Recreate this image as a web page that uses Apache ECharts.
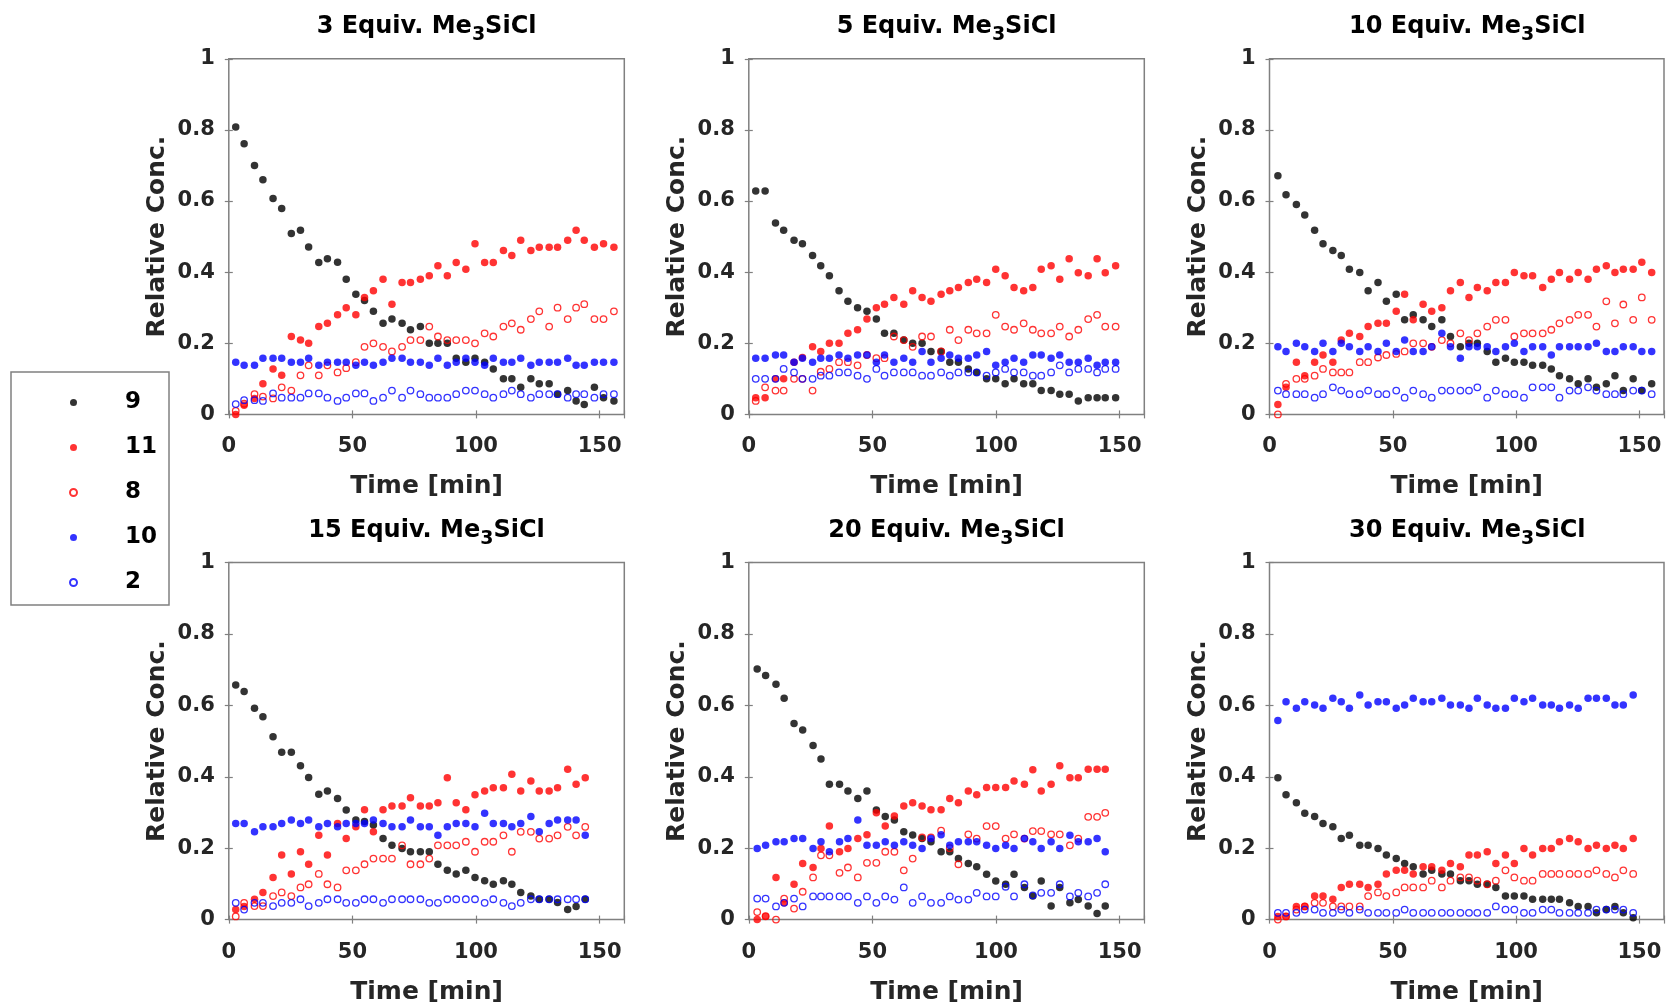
<!DOCTYPE html>
<html><head><meta charset="utf-8">
<script src="https://cdn.jsdelivr.net/npm/echarts@6/dist/echarts.min.js"></script>
<style>html,body{margin:0;padding:0;background:#fff}#c{width:1667px;height:1007px}</style>
</head><body><div id="c"></div>
<script>
// ---------- data ----------
const equivLabels = ['3','5','10','15','20','30'];
const seriesNames = ['9','11','8','10','2'];
const xTickLabels = ['0','50','100','150'];
const yTickLabels = ['0','0.2','0.4','0.6','0.8','1'];

// 3 equiv
const t_3 = [2.8,6.2,10.4,13.8,17.9,21.4,25.3,29.0,32.3,36.4,39.9,44.0,47.5,51.4,54.9,58.5,62.4,66.0,70.1,73.5,77.5,81.1,84.6,88.4,92.0,95.9,99.6,103.5,107.0,111.1,114.5,118.1,122.2,125.6,129.6,133.0,137.1,140.5,143.8,147.9,151.6,155.8];
const c9_3 = [0.808,0.761,0.70,0.66,0.607,0.579,0.509,0.518,0.471,0.427,0.438,0.428,0.38,0.338,0.32,0.29,0.256,0.268,0.256,0.238,0.247,0.2,0.2,0.2,0.158,0.147,0.158,0.147,0.128,0.1,0.1,0.076,0.1,0.086,0.086,0.057,0.067,0.038,0.028,0.076,0.047,0.038];
const c11_3 = [0.0,0.026,0.045,0.086,0.128,0.11,0.219,0.209,0.2,0.247,0.256,0.28,0.30,0.28,0.329,0.348,0.38,0.31,0.371,0.371,0.38,0.39,0.418,0.39,0.427,0.408,0.48,0.427,0.427,0.461,0.447,0.49,0.461,0.47,0.47,0.47,0.49,0.518,0.49,0.47,0.48,0.47];
const c8_3 = [0.01,0.03,0.057,0.05,0.045,0.076,0.067,0.11,0.138,0.11,0.138,0.118,0.13,0.147,0.19,0.2,0.19,0.177,0.19,0.209,0.209,0.247,0.219,0.209,0.209,0.209,0.2,0.228,0.219,0.247,0.256,0.238,0.268,0.29,0.247,0.30,0.268,0.30,0.31,0.268,0.268,0.29];
const c10_3 = [0.147,0.138,0.138,0.158,0.158,0.158,0.147,0.147,0.158,0.138,0.147,0.147,0.147,0.138,0.147,0.138,0.147,0.158,0.158,0.147,0.147,0.138,0.158,0.138,0.147,0.158,0.147,0.138,0.158,0.147,0.147,0.158,0.138,0.147,0.147,0.147,0.158,0.138,0.138,0.147,0.147,0.147];
const c2_3 = [0.029,0.04,0.04,0.038,0.059,0.047,0.047,0.047,0.059,0.059,0.047,0.038,0.047,0.059,0.059,0.038,0.047,0.067,0.047,0.067,0.057,0.047,0.047,0.047,0.057,0.067,0.067,0.057,0.047,0.057,0.067,0.057,0.047,0.057,0.057,0.057,0.047,0.057,0.057,0.047,0.057,0.057];

// 5 equiv
const t_5 = [2.8,6.6,10.8,14.1,18.3,21.7,25.8,29.1,32.6,36.5,40.1,44.0,47.8,51.6,54.9,58.7,62.7,66.3,70.1,73.7,77.8,81.3,84.8,88.8,92.2,96.2,99.9,103.7,107.3,111.2,114.9,118.3,122.3,125.8,129.6,133.3,137.3,140.9,144.2,148.4];
const c9_5 = [0.628,0.628,0.538,0.518,0.49,0.48,0.447,0.418,0.39,0.348,0.318,0.30,0.29,0.268,0.228,0.228,0.209,0.2,0.2,0.177,0.177,0.147,0.147,0.128,0.118,0.1,0.1,0.086,0.1,0.086,0.086,0.067,0.067,0.057,0.057,0.038,0.047,0.047,0.047,0.047];
const c11_5 = [0.047,0.047,0.1,0.1,0.147,0.16,0.19,0.177,0.2,0.2,0.228,0.238,0.268,0.30,0.31,0.329,0.31,0.348,0.329,0.318,0.338,0.348,0.357,0.371,0.38,0.371,0.408,0.39,0.357,0.348,0.357,0.408,0.418,0.38,0.438,0.398,0.39,0.438,0.398,0.418];
const c8_5 = [0.038,0.076,0.067,0.067,0.1,0.1,0.067,0.12,0.128,0.147,0.147,0.138,0.167,0.158,0.158,0.219,0.209,0.19,0.219,0.219,0.177,0.238,0.209,0.238,0.228,0.228,0.28,0.247,0.238,0.256,0.238,0.228,0.228,0.247,0.219,0.238,0.268,0.28,0.247,0.247];
const c10_5 = [0.158,0.158,0.167,0.167,0.147,0.158,0.147,0.158,0.158,0.167,0.158,0.167,0.167,0.147,0.167,0.147,0.158,0.147,0.177,0.147,0.158,0.167,0.158,0.158,0.167,0.177,0.138,0.147,0.158,0.147,0.167,0.167,0.158,0.167,0.147,0.147,0.158,0.138,0.147,0.147];
const c2_5 = [0.1,0.1,0.1,0.128,0.118,0.1,0.1,0.109,0.109,0.118,0.118,0.109,0.1,0.128,0.109,0.118,0.118,0.118,0.109,0.109,0.118,0.109,0.118,0.118,0.118,0.109,0.118,0.128,0.118,0.118,0.109,0.109,0.118,0.138,0.118,0.128,0.128,0.118,0.128,0.128];

// 10 equiv
const t_10 = [3.4,6.7,10.9,14.3,18.3,21.7,25.7,29.1,32.4,36.6,40.0,44.0,47.4,51.4,54.8,58.3,62.3,65.8,69.9,73.4,77.4,80.9,84.3,88.3,91.8,95.7,99.3,103.2,106.7,110.8,114.3,117.6,121.7,125.2,129.2,132.6,136.6,140.1,143.5,147.5,151.0,155.0];
const c9_10 = [0.671,0.618,0.59,0.561,0.518,0.48,0.461,0.447,0.408,0.399,0.348,0.371,0.318,0.338,0.266,0.28,0.266,0.247,0.266,0.219,0.19,0.2,0.2,0.177,0.147,0.158,0.147,0.147,0.138,0.138,0.128,0.109,0.1,0.086,0.1,0.076,0.086,0.109,0.067,0.1,0.067,0.086];
const c11_10 = [0.028,0.076,0.147,0.109,0.147,0.167,0.147,0.209,0.228,0.219,0.247,0.256,0.256,0.29,0.338,0.266,0.31,0.29,0.30,0.348,0.371,0.329,0.357,0.348,0.371,0.371,0.399,0.39,0.39,0.357,0.38,0.399,0.38,0.399,0.38,0.408,0.418,0.399,0.408,0.408,0.428,0.399];
const c8_10 = [0.0,0.086,0.1,0.1,0.109,0.128,0.118,0.118,0.118,0.147,0.147,0.16,0.167,0.17,0.177,0.2,0.2,0.19,0.209,0.2,0.228,0.209,0.228,0.247,0.266,0.266,0.219,0.228,0.228,0.228,0.238,0.256,0.266,0.28,0.28,0.247,0.318,0.256,0.309,0.266,0.329,0.266];
const c10_10 = [0.19,0.177,0.2,0.19,0.177,0.2,0.177,0.2,0.19,0.177,0.19,0.177,0.2,0.177,0.209,0.177,0.177,0.19,0.228,0.19,0.158,0.19,0.19,0.19,0.177,0.19,0.2,0.177,0.19,0.19,0.167,0.19,0.19,0.19,0.19,0.2,0.177,0.177,0.19,0.19,0.177,0.177];
const c2_10 = [0.067,0.057,0.057,0.057,0.047,0.057,0.076,0.067,0.057,0.057,0.067,0.057,0.057,0.067,0.047,0.067,0.057,0.047,0.067,0.067,0.067,0.067,0.076,0.047,0.067,0.057,0.057,0.047,0.076,0.076,0.076,0.047,0.067,0.067,0.076,0.067,0.057,0.057,0.057,0.067,0.067,0.057];

// 15 equiv
const t_15 = [2.8,6.2,10.4,13.8,17.9,21.4,25.3,29.0,32.3,36.4,39.9,44.0,47.5,51.4,54.9,58.5,62.4,66.0,70.1,73.5,77.5,81.1,84.6,88.4,92.0,95.9,99.6,103.5,107.0,111.1,114.5,118.1,122.2,125.6,129.6,133.0,137.1,140.5,144.2];
const c9_15 = [0.657,0.639,0.592,0.568,0.512,0.469,0.469,0.431,0.398,0.351,0.36,0.339,0.307,0.279,0.275,0.265,0.227,0.208,0.199,0.19,0.19,0.19,0.155,0.138,0.128,0.138,0.118,0.109,0.099,0.109,0.099,0.076,0.066,0.057,0.057,0.048,0.028,0.037,0.057];
const c11_15 = [0.028,0.037,0.057,0.076,0.118,0.181,0.128,0.19,0.155,0.236,0.181,0.269,0.227,0.26,0.308,0.246,0.308,0.318,0.318,0.341,0.318,0.318,0.327,0.397,0.327,0.308,0.35,0.36,0.369,0.369,0.407,0.36,0.388,0.36,0.36,0.369,0.421,0.379,0.397];
const c8_15 = [0.009,0.047,0.038,0.038,0.066,0.076,0.066,0.09,0.099,0.128,0.099,0.09,0.138,0.138,0.155,0.171,0.171,0.171,0.208,0.155,0.155,0.171,0.208,0.208,0.208,0.218,0.19,0.218,0.218,0.236,0.19,0.246,0.246,0.227,0.227,0.236,0.26,0.236,0.26];
const c10_15 = [0.269,0.269,0.246,0.26,0.26,0.269,0.279,0.269,0.279,0.26,0.269,0.26,0.269,0.269,0.269,0.279,0.269,0.26,0.26,0.279,0.26,0.26,0.236,0.26,0.269,0.269,0.26,0.298,0.269,0.269,0.26,0.269,0.289,0.246,0.269,0.279,0.279,0.279,0.236];
const c2_15 = [0.047,0.028,0.047,0.047,0.038,0.047,0.047,0.057,0.038,0.047,0.057,0.057,0.047,0.047,0.057,0.057,0.047,0.057,0.057,0.057,0.057,0.047,0.047,0.057,0.057,0.057,0.057,0.047,0.057,0.047,0.038,0.047,0.057,0.057,0.057,0.057,0.057,0.057,0.057];

// 20 equiv
const t_20 = [3.4,6.8,11.0,14.3,18.3,21.8,26.0,29.2,32.6,36.7,40.1,44.1,47.8,51.6,55.2,58.9,62.7,66.3,70.1,73.7,77.8,81.3,84.8,88.8,92.2,96.2,99.9,103.9,107.3,111.5,114.9,118.3,122.3,125.8,129.9,133.3,137.3,140.9,144.2];
const c9_20 = [0.702,0.684,0.659,0.62,0.549,0.531,0.488,0.45,0.379,0.379,0.36,0.339,0.36,0.307,0.289,0.279,0.246,0.237,0.227,0.218,0.19,0.19,0.171,0.157,0.148,0.127,0.108,0.099,0.127,0.09,0.066,0.108,0.038,0.09,0.047,0.056,0.038,0.017,0.038];
const c11_20 = [0.0,0.009,0.118,0.047,0.099,0.157,0.146,0.199,0.262,0.19,0.199,0.227,0.238,0.299,0.262,0.29,0.318,0.327,0.318,0.308,0.308,0.339,0.327,0.36,0.35,0.37,0.37,0.37,0.388,0.379,0.42,0.36,0.379,0.431,0.397,0.397,0.421,0.421,0.421];
const c8_20 = [0.021,0.01,0.0,0.059,0.031,0.078,0.118,0.18,0.18,0.131,0.146,0.118,0.159,0.159,0.19,0.19,0.138,0.171,0.23,0.23,0.249,0.2,0.155,0.239,0.227,0.262,0.262,0.227,0.239,0.227,0.248,0.248,0.239,0.239,0.208,0.227,0.288,0.288,0.299];
const c10_20 = [0.199,0.208,0.218,0.218,0.227,0.227,0.199,0.218,0.19,0.218,0.227,0.279,0.208,0.208,0.218,0.208,0.218,0.208,0.199,0.227,0.238,0.208,0.218,0.218,0.218,0.208,0.199,0.208,0.199,0.227,0.218,0.199,0.218,0.199,0.236,0.218,0.218,0.227,0.19];
const c2_20 = [0.059,0.059,0.037,0.047,0.059,0.037,0.065,0.065,0.065,0.065,0.065,0.047,0.065,0.047,0.065,0.056,0.09,0.047,0.065,0.047,0.047,0.065,0.056,0.056,0.075,0.065,0.065,0.092,0.065,0.099,0.068,0.075,0.075,0.099,0.065,0.075,0.065,0.075,0.099];

// 30 equiv
const t_30 = [3.4,6.7,10.9,14.3,18.3,21.7,25.7,29.1,32.4,36.6,40.0,44.0,47.4,51.4,54.8,58.3,62.3,65.8,69.9,73.4,77.4,80.9,84.3,88.3,91.8,95.7,99.3,103.2,106.7,110.8,114.3,117.6,121.7,125.2,129.2,132.6,136.6,140.1,143.5,147.5];
const c9_30 = [0.397,0.35,0.327,0.298,0.289,0.269,0.26,0.227,0.236,0.208,0.208,0.199,0.181,0.171,0.157,0.148,0.128,0.138,0.128,0.128,0.109,0.109,0.099,0.099,0.09,0.066,0.066,0.066,0.057,0.057,0.057,0.057,0.047,0.037,0.037,0.019,0.028,0.037,0.019,0.005];
const c11_30 = [0.009,0.009,0.037,0.037,0.066,0.066,0.057,0.09,0.099,0.099,0.09,0.099,0.128,0.138,0.138,0.128,0.148,0.148,0.138,0.157,0.148,0.181,0.181,0.19,0.157,0.181,0.157,0.199,0.181,0.199,0.199,0.218,0.227,0.218,0.199,0.208,0.199,0.208,0.199,0.227];
const c8_30 = [0.0,0.009,0.028,0.037,0.047,0.047,0.037,0.037,0.037,0.037,0.066,0.076,0.066,0.076,0.09,0.09,0.09,0.109,0.09,0.109,0.118,0.118,0.109,0.099,0.109,0.138,0.118,0.109,0.109,0.128,0.128,0.128,0.128,0.128,0.128,0.138,0.128,0.118,0.138,0.128];
const c10_30 = [0.558,0.61,0.592,0.61,0.601,0.592,0.62,0.61,0.592,0.629,0.601,0.61,0.61,0.592,0.601,0.62,0.61,0.61,0.62,0.601,0.601,0.592,0.62,0.601,0.592,0.592,0.62,0.61,0.62,0.601,0.601,0.592,0.601,0.592,0.62,0.62,0.62,0.601,0.601,0.629];
const c2_30 = [0.019,0.019,0.019,0.028,0.028,0.019,0.019,0.028,0.019,0.028,0.019,0.019,0.019,0.019,0.028,0.019,0.019,0.019,0.019,0.019,0.019,0.019,0.019,0.019,0.037,0.028,0.028,0.019,0.019,0.028,0.028,0.019,0.019,0.019,0.019,0.028,0.028,0.028,0.028,0.019];

// ---------- assembly ----------
const panels = [
  {t: t_3,  ys: [c9_3,  c11_3,  c8_3,  c10_3,  c2_3]},
  {t: t_5,  ys: [c9_5,  c11_5,  c8_5,  c10_5,  c2_5]},
  {t: t_10, ys: [c9_10, c11_10, c8_10, c10_10, c2_10]},
  {t: t_15, ys: [c9_15, c11_15, c8_15, c10_15, c2_15]},
  {t: t_20, ys: [c9_20, c11_20, c8_20, c10_20, c2_20]},
  {t: t_30, ys: [c9_30, c11_30, c8_30, c10_30, c2_30]}
];

const FONT = 'DejaVu Sans';
const TXT = '#262626';
const BOX = '#808080';
const colLeft = [228.8, 748.8, 1269.5];
const rowTop = [58.8, 562.6];
const rowH = [355.6, 357];
const gridW = 395.5;

const markStyles = [
  {symbolSize: 7.5, itemStyle: {color: '#000000'}},
  {symbolSize: 7.5, itemStyle: {color: '#ff0000'}},
  {symbolSize: 6.5, itemStyle: {color: 'rgba(255,0,0,0)', borderColor: '#ff0000', borderWidth: 1.3}},
  {symbolSize: 7.5, itemStyle: {color: '#0000ff'}},
  {symbolSize: 6.5, itemStyle: {color: 'rgba(0,0,255,0)', borderColor: '#0000ff', borderWidth: 1.3}}
];

const grid = [], xAxis = [], yAxis = [], series = [], title = [];
panels.forEach((p, i) => {
  const r = Math.floor(i / 3), c = i % 3;
  grid.push({left: colLeft[c], top: rowTop[r], width: gridW, height: rowH[r],
    show: true, borderColor: BOX, borderWidth: 1.5, backgroundColor: 'transparent', containLabel: false});
  const xBase = {gridIndex: i, type: 'value', min: 0, max: 160, interval: 50,
    splitLine: {show: false}, axisLine: {show: false},
    axisTick: {show: true, inside: true, length: 4, lineStyle: {color: BOX, width: 1.2}}};
  xAxis.push(Object.assign({}, xBase, {position: 'bottom',
    name: 'Time [min]', nameLocation: 'middle', nameGap: 60,
    nameTextStyle: {fontFamily: FONT, fontWeight: 'bold', fontSize: 25, color: TXT},
    axisLabel: {show: true, margin: 22, fontFamily: FONT, fontWeight: 'bold', fontSize: 21, color: TXT,
      formatter: v => { const k = xTickLabels.indexOf(String(v)); return k >= 0 ? xTickLabels[k] : ''; }}}));
  xAxis.push(Object.assign({}, xBase, {position: 'top', axisLabel: {show: false}}));
  const yBase = {gridIndex: i, type: 'value', min: 0, max: 1, interval: 0.2,
    splitLine: {show: false}, axisLine: {show: false},
    axisTick: {show: true, inside: true, length: 4, lineStyle: {color: BOX, width: 1.2}}};
  yAxis.push(Object.assign({}, yBase, {position: 'left',
    name: 'Relative Conc.', nameLocation: 'middle', nameGap: 59, nameRotate: 90,
    nameTextStyle: {fontFamily: FONT, fontWeight: 'bold', fontSize: 25, color: TXT},
    axisLabel: {show: true, margin: 14, padding: [4, 0, 0, 0], fontFamily: FONT, fontWeight: 'bold', fontSize: 21, color: TXT,
      formatter: v => { const k = Math.round(v * 5); return yTickLabels[k] !== undefined ? yTickLabels[k] : ''; }}}));
  yAxis.push(Object.assign({}, yBase, {position: 'right', axisLabel: {show: false}}));

  title.push({
    text: '{a|' + equivLabels[i] + ' Equiv. Me}{s|3}{a|SiCl}',
    left: colLeft[c] + gridW / 2, top: rowTop[r] - 47, textAlign: 'center', padding: 0,
    textStyle: {rich: {
      a: {fontFamily: FONT, fontWeight: 'bold', fontSize: 24, color: '#000', lineHeight: 30},
      s: {fontFamily: FONT, fontWeight: 'bold', fontSize: 19, color: '#000', lineHeight: 20, padding: [16, 0, 0, 0]}
    }}
  });

  seriesNames.forEach((nm, k) => {
    series.push(Object.assign({
      type: 'scatter', name: nm, xAxisIndex: 2 * i, yAxisIndex: 2 * i, symbol: 'circle',
      data: p.t.map((tv, j) => [tv, p.ys[k][j]]),
      emphasis: {disabled: true}, silent: true, z: 2 + k
    }, JSON.parse(JSON.stringify(markStyles[k]))));
  });
});

const chart = echarts.init(document.getElementById('c'), null, {renderer: 'canvas'});
chart.setOption({
  animation: false,
  backgroundColor: '#ffffff',
  title: title,
  grid: grid, xAxis: xAxis, yAxis: yAxis, series: series,
  legend: {
    data: seriesNames, orient: 'vertical', left: 11, top: 372,
    padding: [19, 12, 11, 58], itemGap: 22, itemWidth: 7, itemHeight: 7,
    borderColor: BOX, borderWidth: 1.5, selectedMode: false,
    formatter: name => '{g|}{n|' + name + '}',
    textStyle: {fontFamily: FONT, fontWeight: 'bold', fontSize: 23, color: '#000',
      rich: {g: {width: 43}, n: {fontFamily: FONT, fontWeight: 'bold', fontSize: 23, color: '#000'}}}
  }
});
</script></body></html>
